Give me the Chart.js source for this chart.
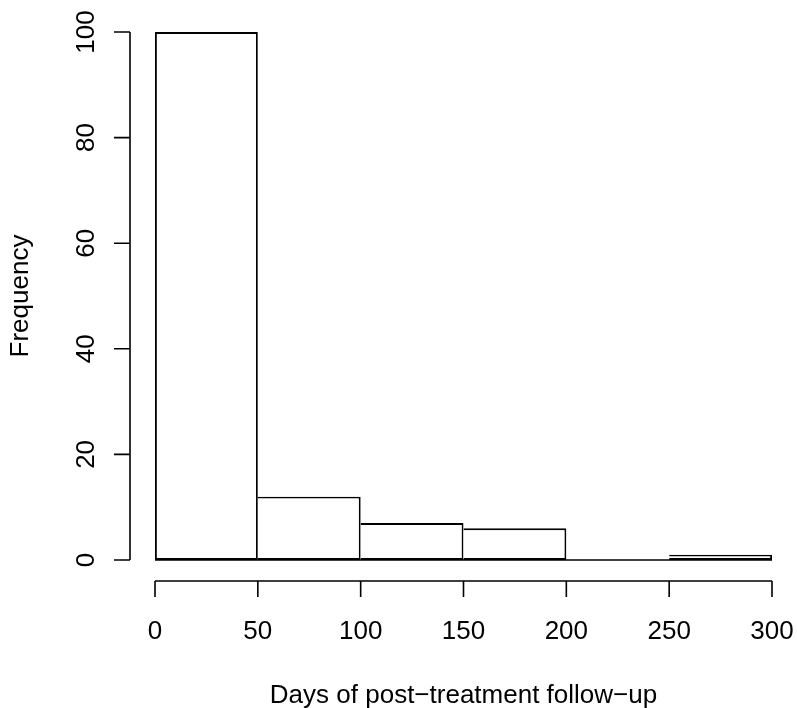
<!DOCTYPE html>
<html>
<head>
<meta charset="utf-8">
<script src="https://cdn.jsdelivr.net/npm/chart.js@4/dist/chart.umd.min.js"></script>
<style>
  html, body { margin: 0; padding: 0; background: #fff; }
  #wrap { width: 797px; height: 708px; }
</style>
</head>
<body>
<div id="wrap"><canvas id="hist" width="797" height="708"></canvas></div>
<script>
// histogram bins and counts
const binEdges = [0, 50, 100, 150, 200, 250, 300];
const counts = [100, 12, 7, 6, 0, 1];
const xTicks = [0, 50, 100, 150, 200, 250, 300];
const yTicks = [0, 20, 40, 60, 80, 100];
const xTitle = 'Days of post\u2212treatment follow\u2212up';
const yTitle = 'Frequency';

const FONT = '26px "Liberation Sans", Arial, Helvetica, sans-serif';
const LW = 1.6;

// R-style axes, drawn from the chart's scales
const rAxes = {
    id: 'rAxes',
    afterDatasetsDraw(chart) {
        const ctx = chart.ctx;
        const xs = chart.scales.x;
        const ys = chart.scales.y;
        const y0 = ys.getPixelForValue(0);

        ctx.save();
        ctx.strokeStyle = '#000';
        ctx.fillStyle = '#000';
        ctx.lineWidth = LW;
        ctx.font = FONT;

        // baseline under the bars (covers empty bins)
        ctx.beginPath();
        ctx.moveTo(xs.getPixelForValue(binEdges[0]), y0);
        ctx.lineTo(xs.getPixelForValue(binEdges[binEdges.length - 1]), y0);
        ctx.stroke();

        // x axis
        const axY = 581;
        ctx.beginPath();
        ctx.moveTo(xs.getPixelForValue(xTicks[0]), axY);
        ctx.lineTo(xs.getPixelForValue(xTicks[xTicks.length - 1]), axY);
        xTicks.forEach(v => {
            const px = xs.getPixelForValue(v);
            ctx.moveTo(px, axY);
            ctx.lineTo(px, axY + 16);
        });
        ctx.stroke();
        ctx.textAlign = 'center';
        ctx.textBaseline = 'alphabetic';
        xTicks.forEach(v => {
            ctx.fillText(String(v), xs.getPixelForValue(v), 639);
        });
        ctx.fillText(xTitle, (xs.left + xs.right) / 2, 703);

        // y axis
        const axX = 130;
        ctx.beginPath();
        ctx.moveTo(axX, ys.getPixelForValue(yTicks[0]));
        ctx.lineTo(axX, ys.getPixelForValue(yTicks[yTicks.length - 1]));
        yTicks.forEach(v => {
            const py = ys.getPixelForValue(v);
            ctx.moveTo(axX, py);
            ctx.lineTo(axX - 16, py);
        });
        ctx.stroke();
        yTicks.forEach(v => {
            ctx.save();
            ctx.translate(94, ys.getPixelForValue(v));
            ctx.rotate(-Math.PI / 2);
            ctx.fillText(String(v), 0, 0);
            ctx.restore();
        });
        ctx.save();
        ctx.translate(28, (ys.top + ys.bottom) / 2);
        ctx.rotate(-Math.PI / 2);
        ctx.fillText(yTitle, 0, 0);
        ctx.restore();

        ctx.restore();
    }
};

const points = counts.map((c, i) => ({ x: (binEdges[i] + binEdges[i + 1]) / 2, y: c }));

new Chart(document.getElementById('hist').getContext('2d'), {
    type: 'bar',
    data: {
        datasets: [{
            data: points,
            backgroundColor: '#ffffff',
            borderColor: '#000000',
            borderWidth: 1.9,
            borderSkipped: (c) => c.dataIndex === 0 ? false : 'left',
            inflateAmount: 0,
            barPercentage: 1.0,
            categoryPercentage: 1.0
        }]
    },
    options: {
        responsive: false,
        animation: false,
        layout: {
            padding: { left: 155, right: 25, top: 32, bottom: 148 }
        },
        scales: {
            x: {
                type: 'linear',
                display: false,
                min: 0,
                max: 300,
                offset: false
            },
            y: {
                display: false,
                min: 0,
                max: 100
            }
        },
        plugins: {
            legend: { display: false },
            tooltip: { enabled: false }
        }
    },
    plugins: [rAxes]
});
</script>
</body>
</html>
